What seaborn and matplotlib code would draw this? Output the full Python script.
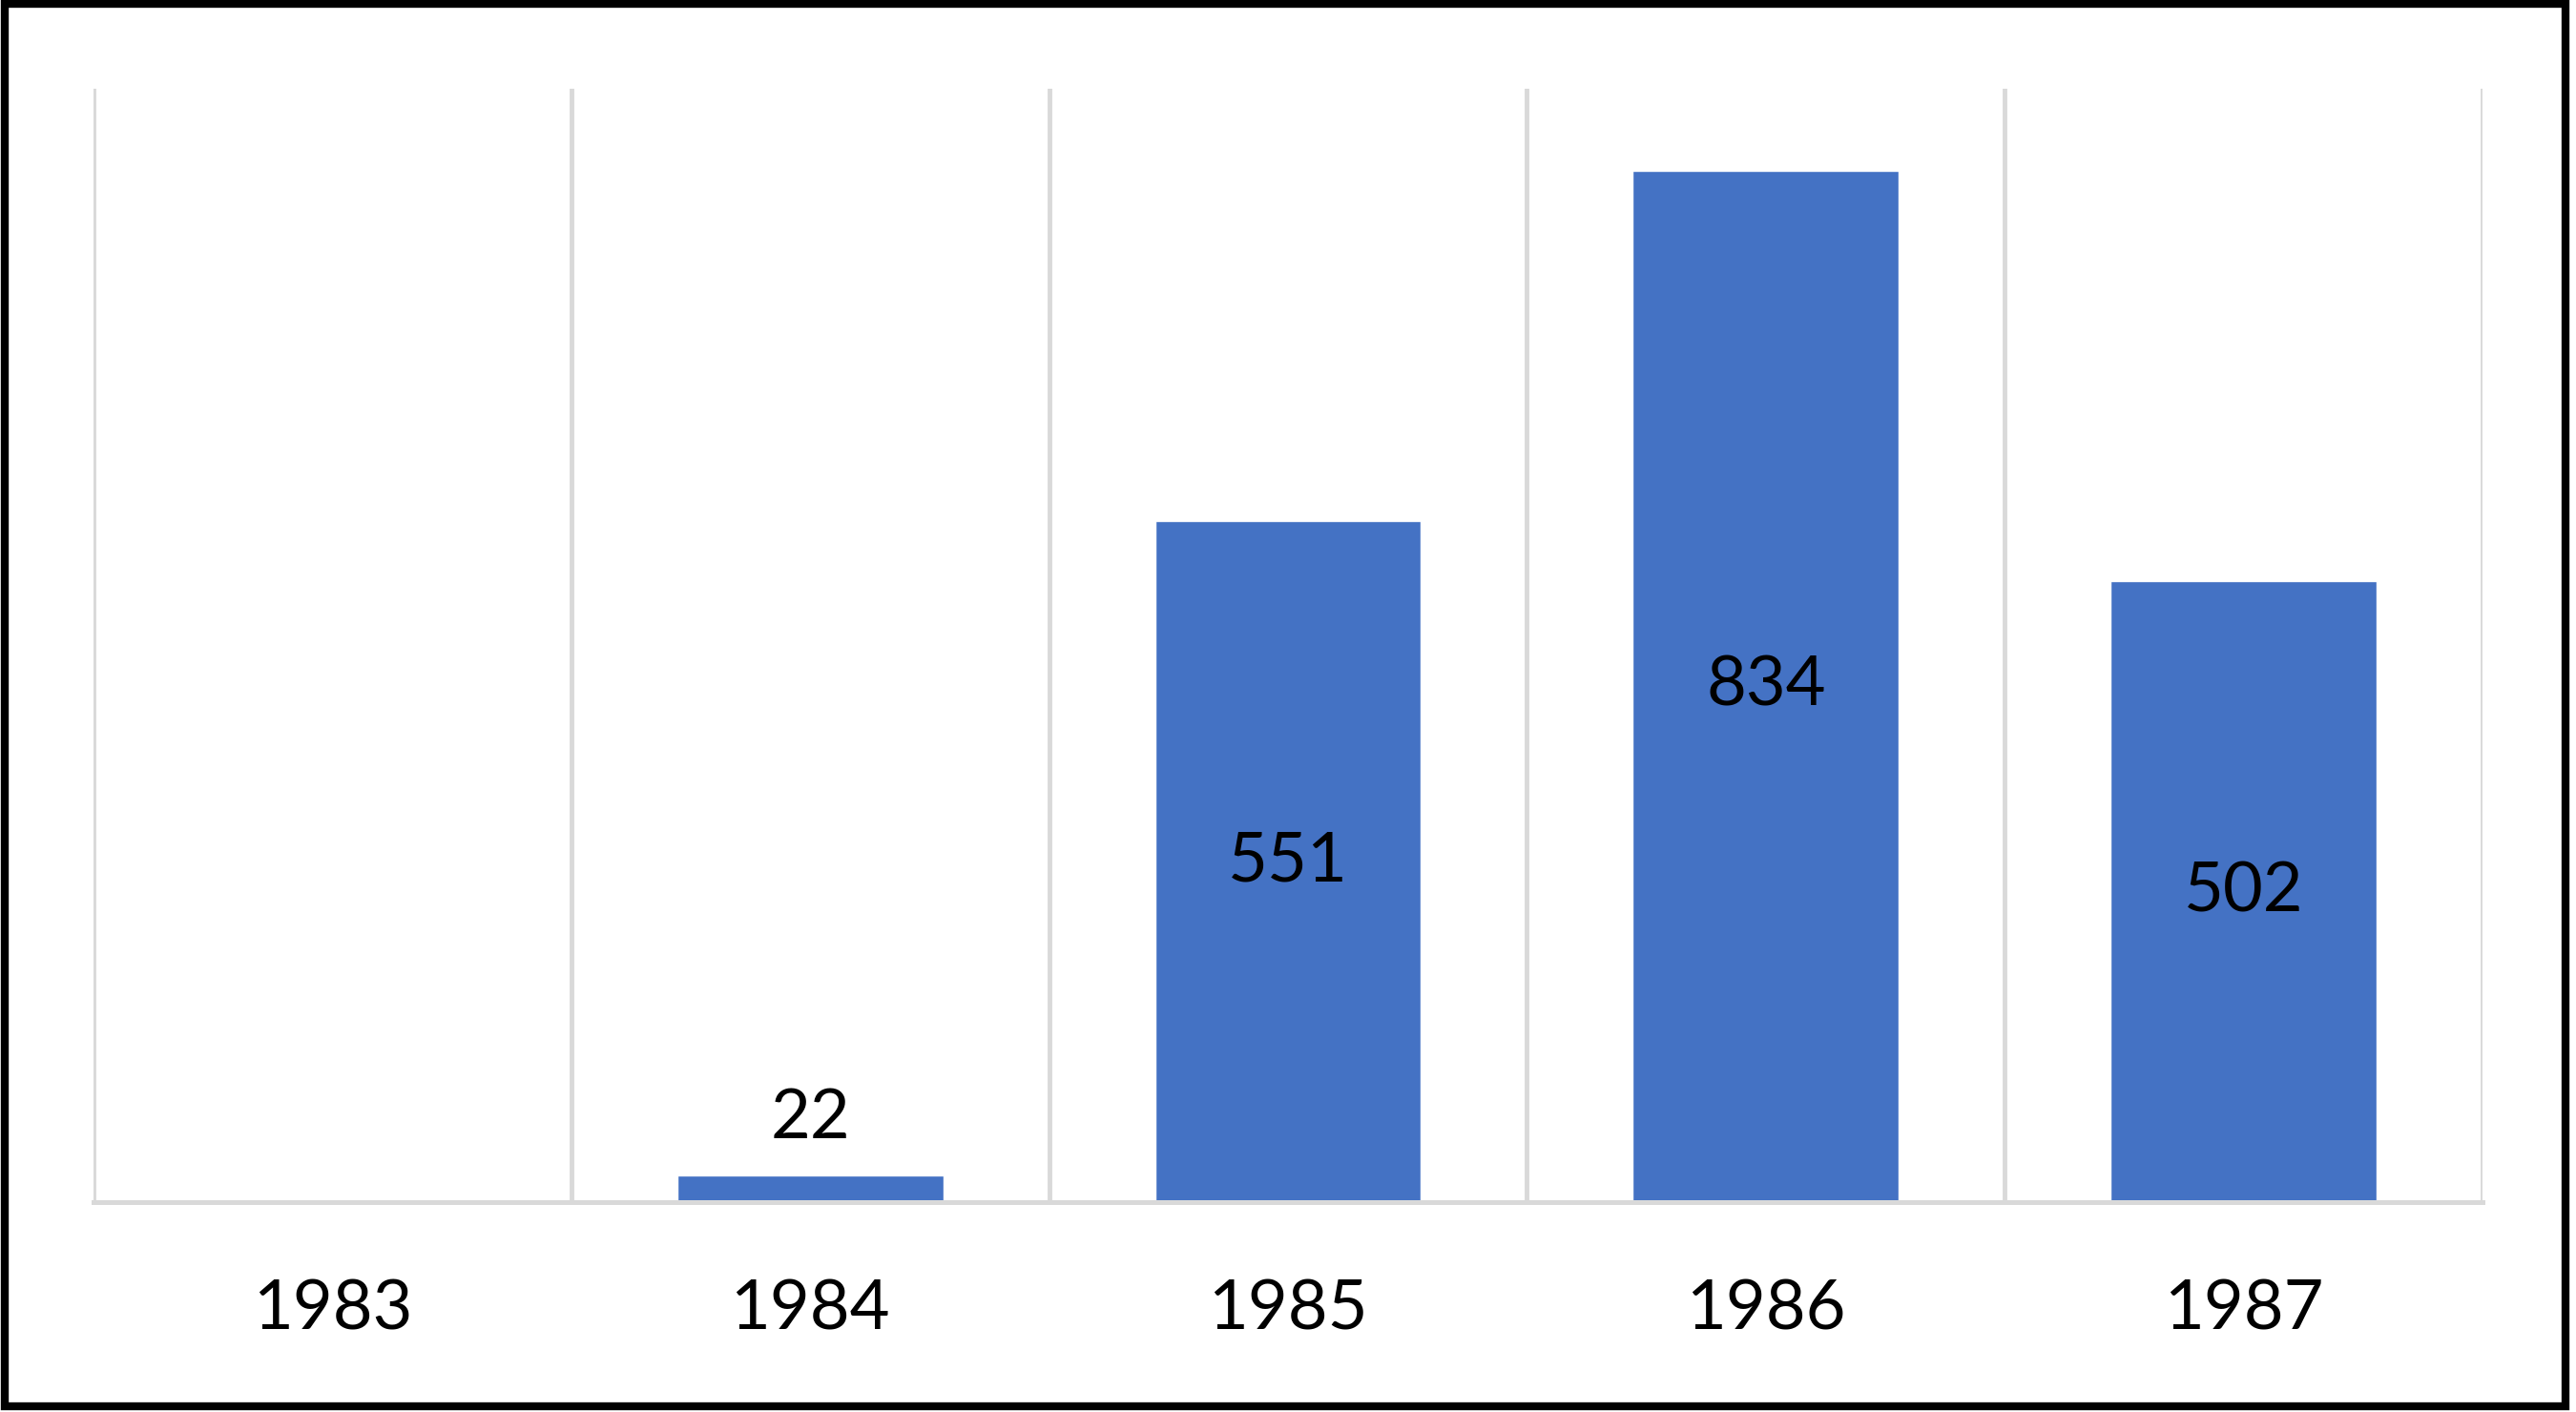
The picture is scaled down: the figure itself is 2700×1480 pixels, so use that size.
import matplotlib
matplotlib.use('Agg')
import matplotlib.pyplot as plt
import seaborn as sns
import pandas as pd
from matplotlib.patches import Rectangle

# values (1983 has no bar)
years = ['1983', '1984', '1985', '1986', '1987']
counts = [0, 22, 551, 834, 502]

df = pd.DataFrame({'Year': years, 'Count': counts})

sns.set_style('white')
plt.rcParams['font.family'] = ['Lato', 'DejaVu Sans']

fig = plt.figure(figsize=(27, 14.8), dpi=100)
ax = fig.add_axes([0.0363, 0.1486, 0.9274, 0.7886])

sns.barplot(x='Year', y='Count', data=df, order=years, color='#4472C4',
            saturation=1, width=0.557, ax=ax)

ax.set_ylim(0, 900)
ax.set_xlim(-0.5, len(years) - 0.5)

# data labels: centred inside bars, small bar gets label above
for i, v in enumerate(counts):
    if v == 0:
        continue
    if v < 100:
        ax.annotate(str(v), (i, v), xytext=(0, 19), textcoords='offset points',
                    ha='center', va='bottom', fontsize=52, color='black')
    else:
        ax.text(i, v / 2, str(v), ha='center', va='center', fontsize=52, color='black')

# vertical separators between categories
ax.set_xticks([i - 0.5 for i in range(len(years) + 1)], minor=True)
ax.grid(which='minor', axis='x', color='#d9d9d9', linewidth=3.5)
ax.grid(which='major', visible=False)
ax.set_axisbelow(True)
ax.set_yticks([])
ax.set_xlabel('')
ax.set_ylabel('')
ax.tick_params(axis='x', which='both', length=0, labelsize=52, pad=58,
               labelcolor='black')

for s in ['top', 'right', 'left']:
    ax.spines[s].set_visible(False)
ax.spines['bottom'].set_color('#d9d9d9')
ax.spines['bottom'].set_linewidth(3.6)

# black frame around the whole chart
fig.patches.append(Rectangle((0.002, 0.004), 0.994, 0.993, transform=fig.transFigure,
                             fill=False, edgecolor='black', linewidth=6))

fig.savefig('out.png', dpi=100, facecolor='white')
